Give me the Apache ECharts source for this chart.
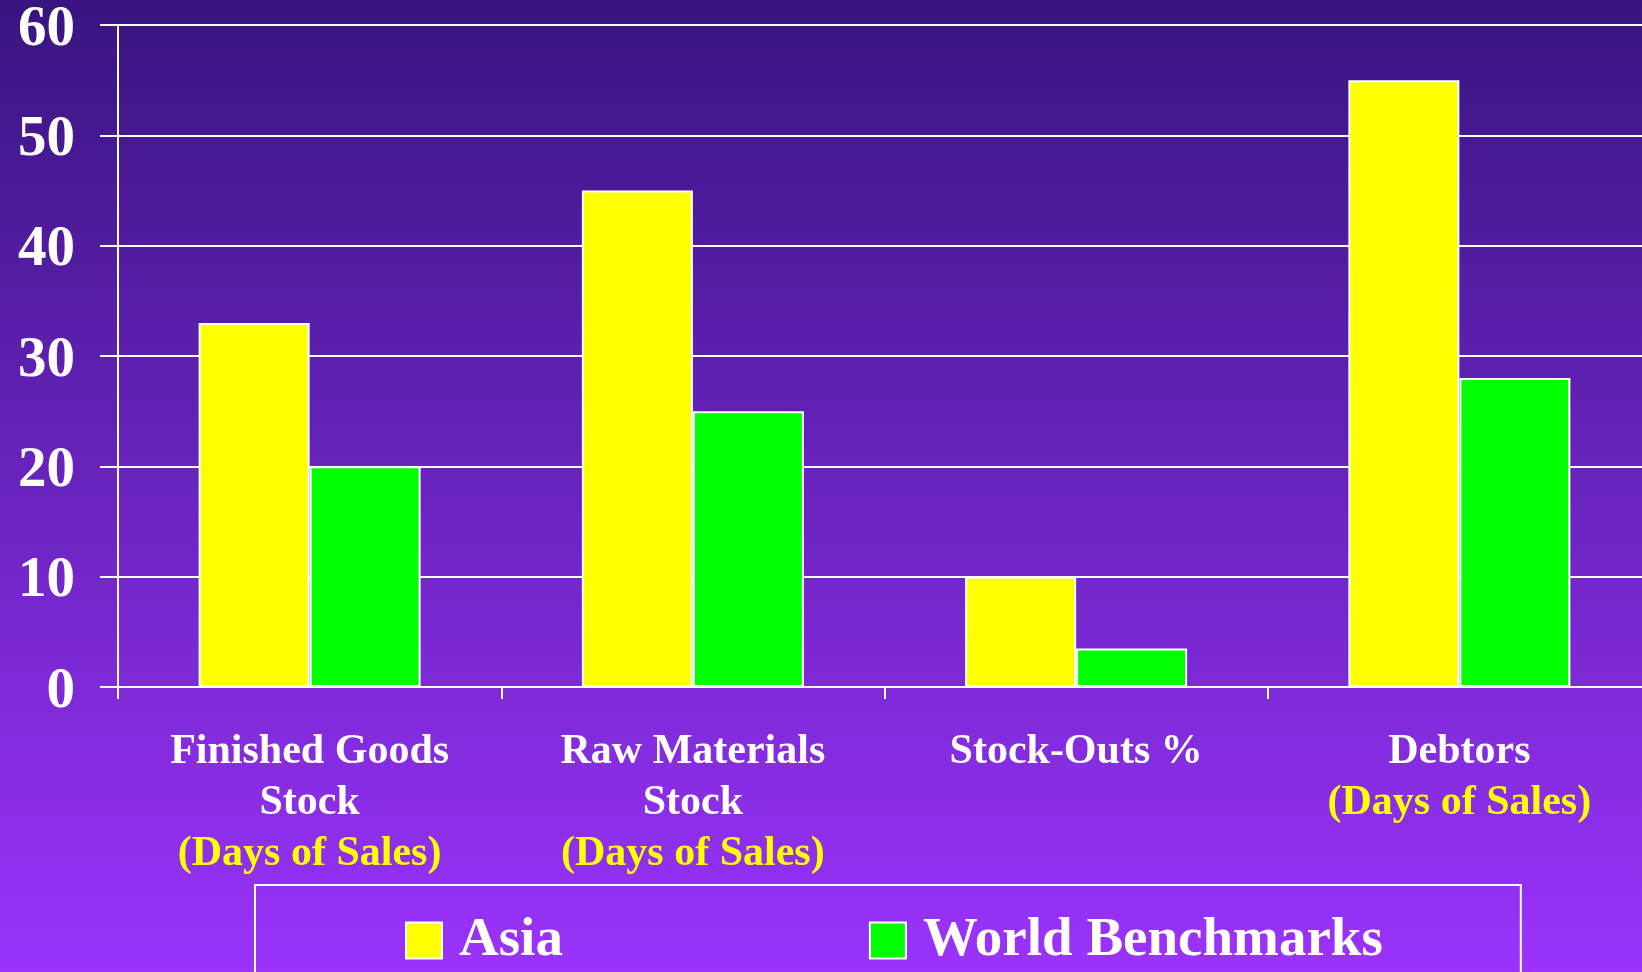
<!DOCTYPE html>
<html><head><meta charset="utf-8">
<script src="https://cdn.jsdelivr.net/npm/echarts@6/dist/echarts.min.js"></script>
<style>html,body{margin:0;padding:0;}#c{width:1642px;height:972px;}</style>
</head><body><div id="c"></div>
<script>
const categories = [
  'Finished Goods\nStock\n{y|(Days of Sales)}',
  'Raw Materials\nStock\n{y|(Days of Sales)}',
  'Stock-Outs %',
  'Debtors\n{y|(Days of Sales)}'
];
const asiaValues = [33, 45, 10, 55];
const worldValues = [20, 25, 3.5, 28];
const seriesNames = ['Asia', 'World Benchmarks'];

const chart = echarts.init(document.getElementById('c'));
const font = 'Liberation Serif';
chart.setOption({
  backgroundColor: new echarts.graphic.LinearGradient(0, 0, 0, 1, [
    {offset: 0, color: '#381480'},
    {offset: 1, color: '#9b33fc'}
  ]),
  animation: false,
  grid: {left: 118, top: 25, bottom: 285, right: -9, containLabel: false, outerBoundsMode: 'none'},
  legend: {
    left: 255, top: 885,
    padding: [28, 138, 60, 150],
    borderColor: '#ffffff', borderWidth: 2,
    icon: 'rect',
    itemWidth: 36, itemHeight: 36, itemGap: 306,
    textStyle: {color: '#ffffff', fontFamily: font, fontWeight: 'bold', fontSize: 55, padding: [0, 0, 0, 12]},
    itemStyle: {borderColor: '#ffffff', borderWidth: 2},
    data: seriesNames
  },
  xAxis: {
    type: 'category', data: categories,
    axisLine: {lineStyle: {color: '#ffffff', width: 2}},
    axisTick: {show: true, length: 12, lineStyle: {color: '#ffffff', width: 2}},
    axisLabel: {
      color: '#ffffff', fontFamily: font, fontWeight: 'bold', fontSize: 42,
      lineHeight: 51, margin: 40, interval: 0,
      rich: {y: {color: '#ffff00', fontFamily: font, fontWeight: 'bold', fontSize: 42, lineHeight: 51}}
    }
  },
  yAxis: {
    type: 'value', min: 0, max: 60, interval: 10,
    axisLine: {show: true, lineStyle: {color: '#ffffff', width: 2}},
    axisTick: {show: true, length: 18, lineStyle: {color: '#ffffff', width: 2}},
    splitLine: {lineStyle: {color: '#ffffff', width: 2}},
    axisLabel: {
      color: '#ffffff', fontFamily: font, fontWeight: 'bold', fontSize: 57, margin: 43,
      formatter: '{v|{value}}',
      rich: {v: {color: '#ffffff', fontFamily: font, fontWeight: 'bold', fontSize: 57, padding: [10, 0, 0, 0]}}
    }
  },
  series: [
    {name: seriesNames[0], type: 'bar', data: asiaValues, barWidth: 111, barGap: '0%',
     itemStyle: {color: '#ffff00', borderColor: '#ffffff', borderWidth: 2}},
    {name: seriesNames[1], type: 'bar', data: worldValues, barWidth: 111, barGap: '0%',
     itemStyle: {color: '#00ff00', borderColor: '#ffffff', borderWidth: 2}}
  ]
});
</script></body></html>
